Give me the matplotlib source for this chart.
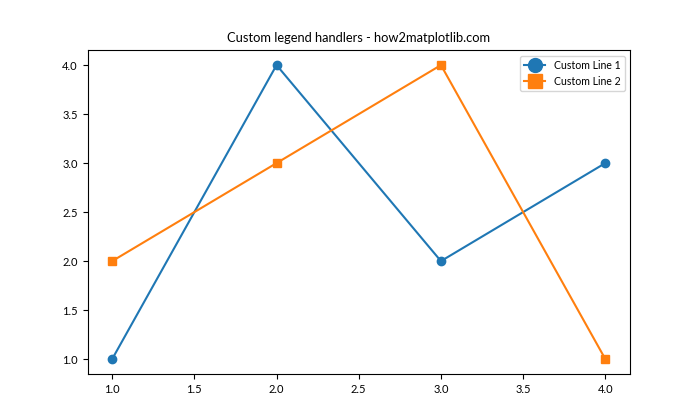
import matplotlib
matplotlib.use("Agg")
import matplotlib.pyplot as plt
from matplotlib.lines import Line2D

plt.rcParams['font.family'] = ['Lato', 'DejaVu Sans']
plt.rcParams['xtick.labelsize'] = 8
plt.rcParams['ytick.labelsize'] = 8
plt.rcParams['axes.titlesize'] = 9.3
plt.rcParams['legend.fontsize'] = 7.6

x = [1, 2, 3, 4]
y1 = [1, 4, 2, 3]
y2 = [2, 3, 4, 1]
labels = ['Custom Line 1', 'Custom Line 2']

fig, ax = plt.subplots(figsize=(7, 4.2), dpi=100)
ax.plot(x, y1, marker='o', color='#1f77b4')
ax.plot(x, y2, marker='s', color='#ff7f0e')
handles = [
    Line2D([], [], color='#1f77b4', marker='o', markersize=10),
    Line2D([], [], color='#ff7f0e', marker='s', markersize=10),
]
ax.legend(handles, labels, loc='upper right')
ax.set_title('Custom legend handlers - how2matplotlib.com')
fig.savefig('out.png')
